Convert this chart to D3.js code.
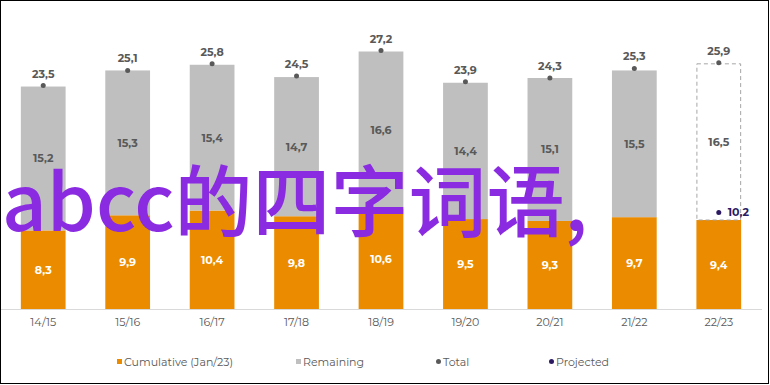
<!DOCTYPE html>
<html><head><meta charset="utf-8">
<script src="https://cdn.jsdelivr.net/npm/d3@7"></script>
<style>body{margin:0;background:#fff}svg{display:block}</style>
</head><body>
<svg id="c" width="770" height="385"></svg>
<script>
const categories = ["14/15","15/16","16/17","17/18","18/19","19/20","20/21","21/22","22/23"];
const cumulative = [8.3, 9.9, 10.4, 9.8, 10.6, 9.5, 9.3, 9.7, 9.4];
const remaining  = [15.2, 15.3, 15.4, 14.7, 16.6, 14.4, 15.1, 15.5, 16.5];
const totals     = [23.5, 25.1, 25.8, 24.5, 27.2, 23.9, 24.3, 25.3, 25.9];
const projected  = [null, null, null, null, null, null, null, null, 10.2];
const legendLabels = ["Cumulative (Jan/23)", "Remaining", "Total", "Projected"];
const overlayText = "abcc的四字词语,";

const svg = d3.select("#c");
const fmt = v => String(v).replace(".", ",");
const font = "Montserrat, 'Open Sans', Lato, sans-serif";
const orange = "#eb8c00", grey = "#bfbfbf", dark = "#595959", proj = "#2b1a62";

const x = d3.scaleBand().domain(categories).range([1, 761]).paddingInner(0.47).paddingOuter(0.235);
const y = d3.scaleLinear().domain([0, 30]).range([309, 25]);
const n = categories.length;

// border
svg.append("rect").attr("x",0.5).attr("y",0.5).attr("width",768).attr("height",383)
  .attr("fill","none").attr("stroke","#000").attr("stroke-width",1);

const g = svg.append("g");
categories.forEach((c, i) => {
  const bx = x(c), bw = x.bandwidth();
  const last = i === n - 1;
  g.append("rect").attr("x",bx).attr("width",bw)
    .attr("y",y(cumulative[i])).attr("height",y(0)-y(cumulative[i])).attr("fill",orange);
  const top = y(cumulative[i] + remaining[i]);
  if (last) {
    g.append("rect").attr("x",bx+0.5).attr("width",bw-1)
      .attr("y",top).attr("height",y(cumulative[i])-top)
      .attr("fill","none").attr("stroke","#a6a6a6").attr("stroke-width",1).attr("stroke-dasharray","4,3");
  } else {
    g.append("rect").attr("x",bx).attr("width",bw)
      .attr("y",top).attr("height",y(cumulative[i])-top).attr("fill",grey);
  }
  const cx = bx + bw/2;
  g.append("text").attr("x",cx).attr("y",(y(0)+y(cumulative[i]))/2+4)
    .attr("text-anchor","middle").attr("fill","#fff").attr("font-weight","bold")
    .attr("font-size",11).attr("font-family",font).text(fmt(cumulative[i]));
  g.append("text").attr("x",cx).attr("y",(top+y(cumulative[i]))/2+4)
    .attr("text-anchor","middle").attr("fill",dark).attr("font-weight","bold")
    .attr("font-size",11).attr("font-family",font).text(fmt(remaining[i]));
  g.append("circle").attr("cx",cx).attr("cy",y(totals[i])-1).attr("r",2.5).attr("fill",dark);
  g.append("text").attr("x",cx).attr("y",y(totals[i])-9)
    .attr("text-anchor","middle").attr("fill",dark).attr("font-weight","bold")
    .attr("font-size",11).attr("font-family",font).text(fmt(totals[i]));
  if (projected[i] != null) {
    g.append("circle").attr("cx",cx).attr("cy",y(projected[i])).attr("r",2.5).attr("fill",proj);
    g.append("text").attr("x",cx+9).attr("y",y(projected[i])+4)
      .attr("fill",proj).attr("font-weight","bold")
      .attr("font-size",11).attr("font-family",font).text(fmt(projected[i]));
  }
});

const ax = svg.append("g").attr("transform","translate(0,309)")
  .call(d3.axisBottom(x).tickSize(0).tickPadding(9));
ax.select(".domain").attr("stroke","#d9d9d9").attr("d","M1,0.5H762");
ax.selectAll("text").attr("fill",dark).attr("font-size",11).attr("font-family",font);

const lx = [117, 296, 436, 549];
const lg = svg.append("g");
legendLabels.forEach((t, i) => {
  if (i < 2) {
    lg.append("rect").attr("x",lx[i]).attr("y",359).attr("width",5).attr("height",5)
      .attr("fill", i === 0 ? orange : grey);
  } else {
    lg.append("circle").attr("cx",lx[i]+2.5).attr("cy",361.5).attr("r",2.5)
      .attr("fill", i === 2 ? dark : proj);
  }
  lg.append("text").attr("x",lx[i]+7).attr("y",366).attr("fill",dark)
    .attr("font-size",11).attr("font-family",font).text(t);
});

svg.append("text").attr("x",2).attr("y",231).attr("fill","#8a2be2")
  .attr("font-size",78).attr("font-weight",500).attr("font-family","'Noto Sans CJK SC', sans-serif")
  .text(overlayText);
</script>
</body></html>
